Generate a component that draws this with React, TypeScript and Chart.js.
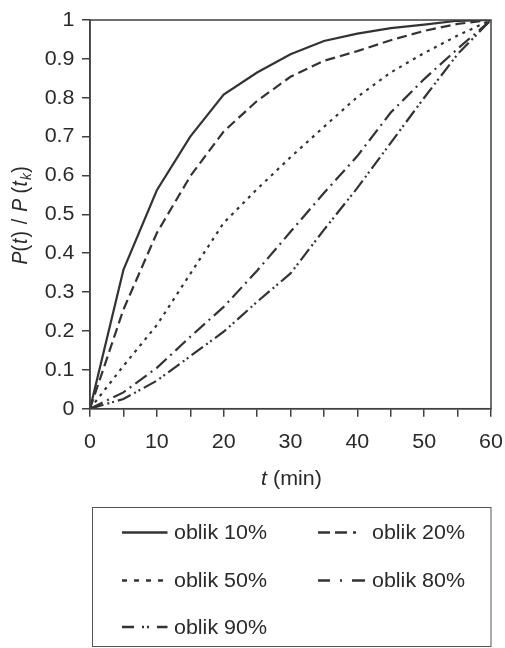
import React, { useEffect, useRef } from "react";
import { Chart, registerables } from "chart.js";

Chart.register(...registerables);

const times = [0, 5, 10, 15, 20, 25, 30, 35, 40, 45, 50, 55, 60];
const oblik10 = [0, 0.357, 0.562, 0.7, 0.808, 0.865, 0.912, 0.946, 0.965, 0.979, 0.988, 0.998, 1];
const oblik20 = [0, 0.255, 0.452, 0.598, 0.713, 0.792, 0.854, 0.895, 0.92, 0.948, 0.972, 0.99, 1];
const oblik50 = [0, 0.11, 0.215, 0.347, 0.478, 0.565, 0.647, 0.725, 0.802, 0.865, 0.915, 0.96, 1];
const oblik80 = [0, 0.042, 0.105, 0.185, 0.262, 0.355, 0.455, 0.555, 0.65, 0.762, 0.848, 0.926, 1];
const oblik90 = [0, 0.025, 0.072, 0.135, 0.198, 0.275, 0.348, 0.46, 0.568, 0.684, 0.8, 0.912, 1];
const seriesNames = ["oblik 10%", "oblik 20%", "oblik 50%", "oblik 80%", "oblik 90%"];

const FONT = '"Liberation Sans", Arial, sans-serif';
const FS = 19.5;
const SX = 1.1;
const LINE = "#333333";
const AXIS = "#404040";
const TEXT = "#2a2a2a";

const dashes: number[][] = [[], [10, 5], [3, 5], [14, 5, 2, 5], [14, 4, 2, 3, 2, 4]];
const legendDashes: number[][] = [[], [12, 5, 12, 6, 3, 40], [5, 7], [12, 10, 2, 10, 13, 40], [12, 8, 2, 3, 2, 8, 12, 40]];

type Seg = { t: string; it?: boolean; sub?: boolean; gap?: number };

function segFont(s: Seg) {
  const size = s.sub ? FS * 0.7 : FS;
  return `${s.it ? "italic " : ""}${size}px ${FONT}`;
}

function drawStretched(ctx: CanvasRenderingContext2D, text: string, x: number, y: number, align: CanvasTextAlign) {
  ctx.save();
  ctx.translate(x, y);
  ctx.scale(SX, 1);
  ctx.font = `${FS}px ${FONT}`;
  ctx.textAlign = align;
  ctx.textBaseline = "middle";
  ctx.fillText(text, 0, 0);
  ctx.restore();
}

// draws segments centred at (0,0) of current transform
function drawSegs(ctx: CanvasRenderingContext2D, segs: Seg[]) {
  let total = 0;
  const widths = segs.map((s) => {
    ctx.font = segFont(s);
    const w = ctx.measureText(s.t).width + (s.gap || 0);
    total += w;
    return w;
  });
  let x = -total / 2;
  ctx.textBaseline = "middle";
  ctx.textAlign = "left";
  segs.forEach((s, i) => {
    ctx.font = segFont(s);
    ctx.fillText(s.t, x + (s.gap || 0) / 2, s.sub ? 5 : 0);
    x += widths[i];
  });
}

const overlay = {
  id: "overlay",
  afterDraw(chart: any) {
    const ctx: CanvasRenderingContext2D = chart.ctx;
    const a = chart.chartArea;
    ctx.save();
    ctx.strokeStyle = AXIS;
    ctx.lineWidth = 1.5;
    ctx.setLineDash([]);
    ctx.strokeRect(a.left, a.top, a.right - a.left, a.bottom - a.top);

    ctx.fillStyle = TEXT;
    // tick labels
    const xs = chart.scales.x;
    xs.ticks.forEach((tk: any) => {
      if (tk.value % 10 !== 0) return;
      drawStretched(ctx, String(tk.value), xs.getPixelForValue(tk.value), 442.5, "center");
    });
    const ys = chart.scales.y;
    ys.ticks.forEach((tk: any) => {
      const r = Math.round(tk.value * 10) / 10;
      const lab = r === 0 ? "0" : r === 1 ? "1" : r.toFixed(1);
      drawStretched(ctx, lab, 74.5, ys.getPixelForValue(tk.value) + 0.5, "right");
    });

    // x title
    ctx.save();
    ctx.translate((a.left + a.right) / 2 + 1, 479.5);
    ctx.scale(SX, 1);
    drawSegs(ctx, [{ t: "t", it: true }, { t: " (min)" }]);
    ctx.restore();

    // y title
    ctx.save();
    ctx.translate(21.5, (a.top + a.bottom) / 2 + 1);
    ctx.rotate(-Math.PI / 2);
    ctx.scale(1, SX);
    drawSegs(ctx, [
      { t: "P", it: true },
      { t: "(" },
      { t: "t", it: true, gap: 2 },
      { t: ")" },
      { t: " / ", gap: 3 },
      { t: "P", it: true },
      { t: " (" },
      { t: "t", it: true, gap: 1 },
      { t: "k", it: true, sub: true, gap: 1 },
      { t: ")" },
    ]);
    ctx.restore();

    // legend
    ctx.strokeStyle = "#555555";
    ctx.lineWidth = 1;
    ctx.strokeRect(92.5, 507.5, 398.5, 139);
    const cols = [
      { lx0: 122, lx1: 167.5, tx: 174 },
      { lx0: 318, lx1: 365, tx: 372 },
    ];
    const rows = [534, 582, 628.5];
    seriesNames.forEach((name, i) => {
      const c = cols[i % 2];
      const y = rows[Math.floor(i / 2)];
      ctx.strokeStyle = LINE;
      ctx.lineWidth = 2.3;
      ctx.setLineDash(legendDashes[i]);
      ctx.beginPath();
      ctx.moveTo(c.lx0, y - 1.5);
      ctx.lineTo(c.lx1, y - 1.5);
      ctx.stroke();
      ctx.setLineDash([]);
      ctx.fillStyle = TEXT;
      drawStretched(ctx, name, c.tx, y, "left");
    });
    ctx.restore();
  },
};

export default function App() {
  const ref = useRef<HTMLCanvasElement | null>(null);
  useEffect(() => {
    if (!ref.current) return;
    const all = [oblik10, oblik20, oblik50, oblik80, oblik90];
    const chart = new Chart(ref.current, {
      type: "line",
      data: {
        datasets: all.map((vals, i) => ({
          label: seriesNames[i],
          data: vals.map((v, k) => ({ x: times[k], y: v })),
          borderColor: LINE,
          borderWidth: 2.2,
          borderDash: dashes[i],
          pointRadius: 0,
          fill: false,
          tension: 0,
        })),
      },
      options: {
        animation: false,
        responsive: false,
        devicePixelRatio: 1,
        layout: { padding: { top: 20, left: 0, right: 14, bottom: 189.3 } },
        plugins: { legend: { display: false }, tooltip: { enabled: false } },
        scales: {
          x: {
            type: "linear",
            min: 0,
            max: 60,
            afterFit: (s: any) => {
              s.height = 50;
            },
            ticks: {
              display: false,
              stepSize: 5,
              autoSkip: false,
              maxRotation: 0,
            },
            grid: { drawOnChartArea: false, drawTicks: true, tickLength: 8, color: AXIS, lineWidth: 1.5 },
            border: { display: true, color: AXIS, width: 1.5 },
          },
          y: {
            type: "linear",
            min: 0,
            max: 1,
            afterFit: (s: any) => {
              s.width = 90;
            },
            ticks: {
              display: false,
              stepSize: 0.1,
            },
            grid: { drawOnChartArea: false, drawTicks: true, tickLength: 8, color: AXIS, lineWidth: 1.5 },
            border: { display: true, color: AXIS, width: 1.5 },
          },
        },
      },
      plugins: [overlay],
    } as any);
    return () => chart.destroy();
  }, []);
  return (
    <div style={{ position: "fixed", left: 0, top: 0, width: 505, height: 648, background: "#fff" }}>
      <canvas ref={ref} width={505} height={648} style={{ display: "block" }} />
    </div>
  );
}
